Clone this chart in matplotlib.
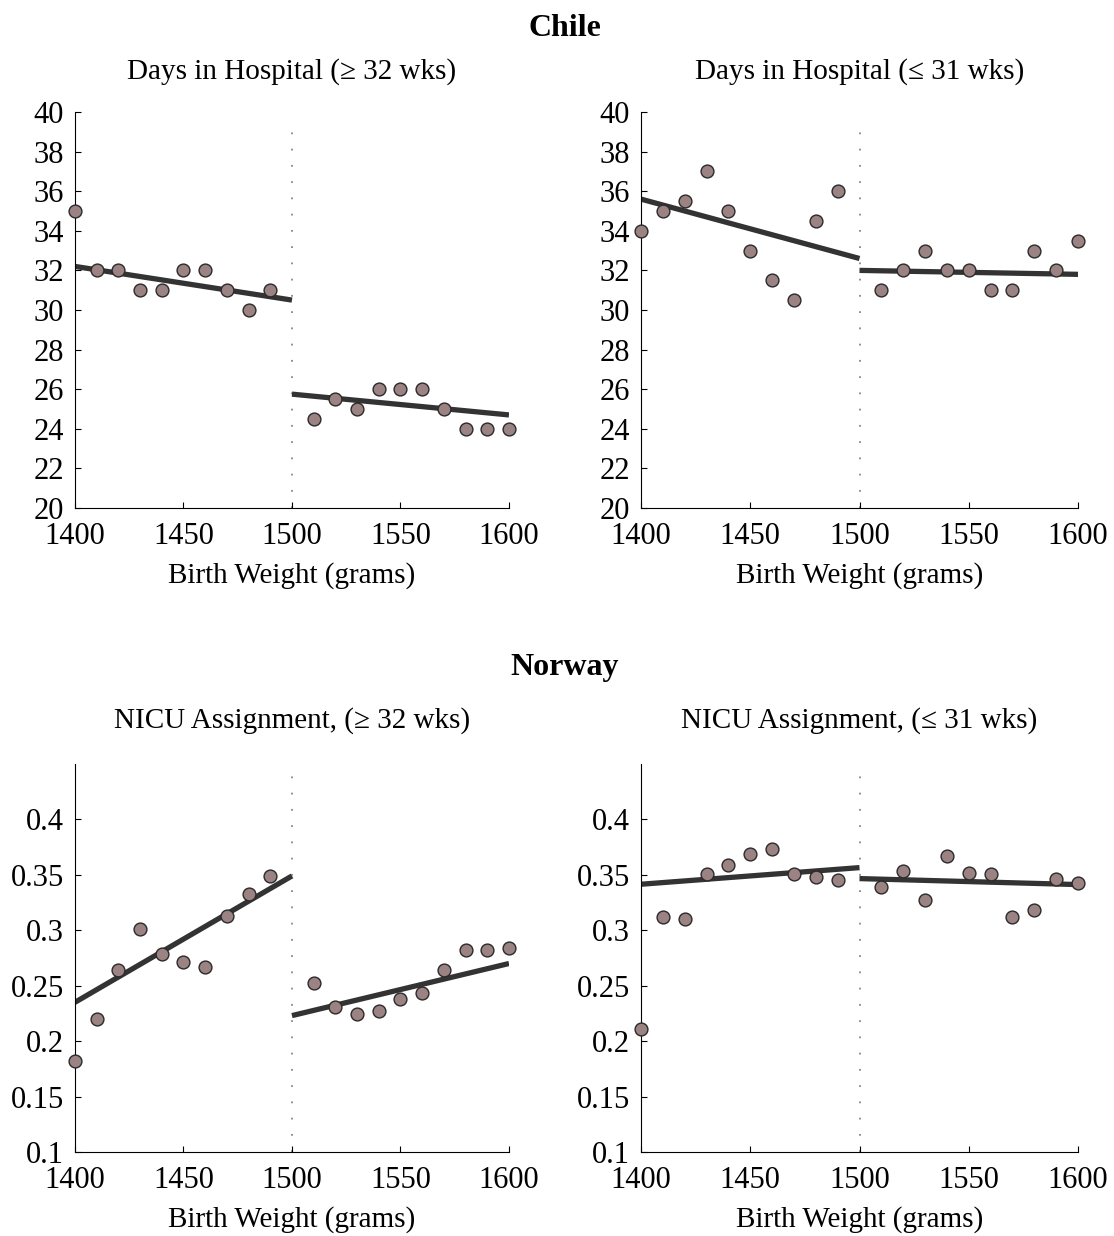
import matplotlib
matplotlib.use('Agg')
import matplotlib.pyplot as plt
import numpy as np

plt.rcParams['font.family'] = ['Liberation Serif', 'DejaVu Serif']

# bins of birth weight (grams)
bw_left = [1400, 1410, 1420, 1430, 1440, 1450, 1460, 1470, 1480, 1490]
bw_right = [1510, 1520, 1530, 1540, 1550, 1560, 1570, 1580, 1590, 1600]

# Chile, days in hospital
chile32_left = [35, 32, 32, 31, 31, 32, 32, 31, 30, 31]
chile32_right = [24.5, 25.5, 25, 26, 26, 26, 25, 24, 24, 24]
chile31_left = [34, 35, 35.5, 37, 35, 33, 31.5, 30.5, 34.5, 36]
chile31_right = [31, 32, 33, 32, 32, 31, 31, 33, 32, 33.5]

# Norway, NICU assignment
nor32_left = [0.182, 0.220, 0.264, 0.301, 0.279, 0.271, 0.267, 0.313, 0.333, 0.349]
nor32_right = [0.252, 0.231, 0.224, 0.227, 0.238, 0.243, 0.264, 0.282, 0.282, 0.284]
nor31_left = [0.211, 0.312, 0.310, 0.351, 0.359, 0.369, 0.373, 0.351, 0.348, 0.345]
nor31_right = [0.339, 0.353, 0.327, 0.367, 0.352, 0.351, 0.312, 0.318, 0.346, 0.343]

# fitted lines (end points at 1400/1500 and 1500/1600)
fit_x_left = [1400, 1500]
fit_x_right = [1500, 1600]
chile32_fit = ([32.2, 30.5], [25.75, 24.7])
chile31_fit = ([35.6, 32.6], [32.0, 31.8])
nor32_fit = ([0.235, 0.349], [0.223, 0.270])
nor31_fit = ([0.3415, 0.3565], [0.3466, 0.3412])

xticks = [1400, 1450, 1500, 1550, 1600]
chile_yticks = list(range(20, 41, 2))
nor_yticks = [0.1, 0.15, 0.2, 0.25, 0.3, 0.35, 0.4]

fig = plt.figure(figsize=(11.14, 12.36), dpi=100)

panels = [
    ([0.0673, 0.589, 0.3896, 0.3204], 'Days in Hospital (≥ 32 wks)',
     chile32_left, chile32_right, chile32_fit, (20, 40), chile_yticks),
    ([0.5754, 0.589, 0.3923, 0.3204], 'Days in Hospital (≤ 31 wks)',
     chile31_left, chile31_right, chile31_fit, (20, 40), chile_yticks),
    ([0.0673, 0.068, 0.3896, 0.3139], 'NICU Assignment, (≥ 32 wks)',
     nor32_left, nor32_right, nor32_fit, (0.1, 0.45), nor_yticks),
    ([0.5754, 0.068, 0.3923, 0.3139], 'NICU Assignment, (≤ 31 wks)',
     nor31_left, nor31_right, nor31_fit, (0.1, 0.45), nor_yticks),
]

for rect, title, yl, yr, fit, ylim, yticks in panels:
    ax = fig.add_axes(rect)
    top = 0.967 if ylim[0] == 20 else 0.985
    ax.axvline(1500, ymin=0, ymax=top, color='#888888', linestyle=(0, (1, 8)), linewidth=1.3, zorder=1)
    ax.plot(fit_x_left, fit[0], color='#333333', linewidth=3.8, solid_capstyle='butt', zorder=2)
    ax.plot(fit_x_right, fit[1], color='#333333', linewidth=3.8, solid_capstyle='butt', zorder=2)
    ax.scatter(bw_left, yl, s=85, facecolor='#9b8383', edgecolor='#2a2a2a', linewidth=1.0, zorder=3, clip_on=False)
    ax.scatter(bw_right, yr, s=85, facecolor='#9b8383', edgecolor='#2a2a2a', linewidth=1.0, zorder=3, clip_on=False)
    ax.set_xlim(1400, 1600)
    ax.set_ylim(*ylim)
    ax.set_xticks(xticks)
    ax.set_yticks(yticks)
    ax.set_yticklabels(['%g' % t for t in yticks])
    ax.spines['top'].set_visible(False)
    ax.spines['right'].set_visible(False)
    ax.tick_params(direction='in', length=4, labelsize=22)
    ax.tick_params(axis='x', pad=10)
    ax.tick_params(axis='y', pad=8)
    ax.set_xlabel('Birth Weight (grams)', fontsize=21, labelpad=8)
    ax.set_title(title, fontsize=21, pad=24 if ylim[0] == 20 else 26)

fig.text(0.507, 0.977, 'Chile', fontsize=23, fontweight='bold', ha='center', va='center')
fig.text(0.507, 0.460, 'Norway', fontsize=23, fontweight='bold', ha='center', va='center')

fig.savefig('out.png', dpi=100)
